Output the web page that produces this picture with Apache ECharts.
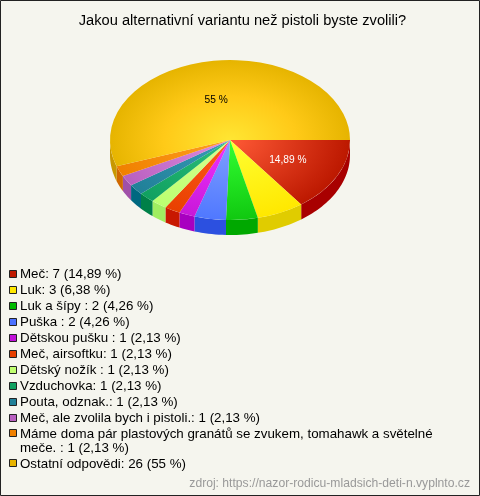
<!DOCTYPE html>
<html><head><meta charset="utf-8">
<style>html,body{margin:0;padding:0;background:#f5f5ee}#c{width:480px;height:496px}</style>
<script src="https://cdn.jsdelivr.net/npm/echarts@6/dist/echarts.min.js"></script>
</head><body><div id="c"></div>
<script>
const titleText = 'Jakou alternativní variantu než pistoli byste zvolili?';
const sourceText = 'zdroj: https://nazor-rodicu-mladsich-deti-n.vyplnto.cz';
const categories = ['Meč','Luk','Luk a šípy','Puška','Dětskou pušku','Meč, airsoftku','Dětský nožík','Vzduchovka','Pouta, odznak.','Meč, ale zvolila bych i pistoli.','Máme doma pár plastových granátů se zvukem, tomahawk a světelné meče.','Ostatní odpovědi'];
const values = [7,3,2,2,1,1,1,1,1,1,1,26];
const legendLabels = ['Meč: 7 (14,89 %)','Luk: 3 (6,38 %)','Luk a šípy : 2 (4,26 %)','Puška : 2 (4,26 %)','Dětskou pušku : 1 (2,13 %)','Meč, airsoftku: 1 (2,13 %)','Dětský nožík : 1 (2,13 %)','Vzduchovka: 1 (2,13 %)','Pouta, odznak.: 1 (2,13 %)','Meč, ale zvolila bych i pistoli.: 1 (2,13 %)','Máme doma pár plastových granátů se zvukem, tomahawk a světelné\nmeče. : 1 (2,13 %)','Ostatní odpovědi: 26 (55 %)'];
const sliceLabels = ['14,89 %','','','','','','','','','','','55 %'];
const swatchColors = ['#c01a00','#ffe800','#00bb00','#4a70ff','#c010d8','#e84000','#c0ff70','#10a060','#208098','#b860c0','#f08000','#e8b400'];
const lightColors  = ['#ff5a36','#ffff33','#33ff33','#80a0ff','#f033ff','#ff5a1a','#d8ff90','#2cc07c','#3a9ab8','#e08ce0','#ffa020','#ffe633'];
const edgeColors   = ['#bc1800','#ffe800','#10c810','#5078ff','#c818d8','#e84000','#bbff70','#10a060','#208098','#b860c0','#f08000','#e6b400'];
const wallColors   = ['#a80000','#e0cc00','#00a800','#2c50e0','#a800c0','#c81800','#a0ee60','#008048','#006880','#a050a8','#d06800','#c89800'];

const CX = 230, CY = 140, RX = 120, RY = 80, DEPTH = 15;
const total = values.reduce((a, b) => a + b, 0);
const starts = []; values.reduce((acc, v, i) => { starts[i] = acc; return acc + v; }, 0);

function renderSlice(params, api) {
  const i = params.dataIndex;
  const a0 = starts[i] / total * Math.PI * 2;
  const a1 = (starts[i] + values[i]) / total * Math.PI * 2;
  const children = [];
  if (a0 < Math.PI) {
    const s = a0, e = Math.min(a1, Math.PI);
    const top = [], bot = [];
    const n = Math.max(2, Math.ceil((e - s) / 0.03));
    for (let k = 0; k <= n; k++) {
      const t = s + (e - s) * k / n;
      const x = CX + RX * Math.cos(t), y = CY + RY * Math.sin(t);
      top.push([x, y]); bot.unshift([x, y + DEPTH]);
    }
    children.push({ type: 'polygon', shape: { points: top.concat(bot) }, style: { fill: wallColors[i] }, z2: 1 });
  }
  const stops = i === 11
    ? [{ offset: 0, color: lightColors[i] }, { offset: 0.55, color: '#ffca18' }, { offset: 1, color: edgeColors[i] }]
    : [{ offset: 0, color: lightColors[i] }, { offset: 1, color: edgeColors[i] }];
  children.push({
    type: 'sector',
    shape: { cx: CX, cy: CY, r0: 0, r: RX, startAngle: a0, endAngle: a1, clockwise: true },
    originX: CX, originY: CY, scaleY: RY / RX,
    style: { fill: { type: 'radial', x: CX, y: CY, r: RX, global: true, colorStops: stops } },
    z2: 2
  });
  if (sliceLabels[i]) {
    const m = (a0 + a1) / 2, f = 0.54;
    children.push({ type: 'text', z2: 3,
      style: { text: sliceLabels[i], x: CX + RX * f * Math.cos(m) + (i === 11 ? -3 : 0), y: CY + RY * f * Math.sin(m) + (i === 11 ? 3 : 0.5),
        align: 'center', verticalAlign: 'middle', font: '10.2px "Liberation Sans"', fill: i === 0 ? '#fff' : '#000' } });
  }
  return { type: 'group', children };
}

const LEG_X = 9.5, LEG_Y = 274, ROW = 15.95, WRAP = 14;
const graphics = [];
let y = LEG_Y;
legendLabels.forEach((t, i) => {
  graphics.push({ type: 'rect', shape: { x: LEG_X, y: Math.round(y) - 3.5, width: 7, height: 7 }, style: { fill: swatchColors[i], stroke: '#222', lineWidth: 1 } });
  graphics.push({ type: 'text', x: 20, y: y - 6.5, style: { text: t, font: '13.33px "Liberation Sans"', fill: '#000', lineHeight: WRAP, verticalAlign: 'top' } });
  y += ROW + (t.split('\n').length - 1) * WRAP;
});
graphics.push({ type: 'rect', shape: { x: 0.5, y: 0.5, width: 479, height: 495 }, style: { fill: 'none', stroke: '#222', lineWidth: 1 }, z: 0 });
graphics.push({ type: 'text', right: 10, top: 478, style: { text: sourceText, font: '12.15px "Liberation Sans"', fill: '#999' } });

const chart = echarts.init(document.getElementById('c'), null, { renderer: 'canvas' });
chart.setOption({
  animation: false,
  backgroundColor: '#f5f5ee',
  title: { text: titleText, left: 237.5, top: 8, textAlign: 'center', textStyle: { fontFamily: 'Liberation Sans', fontSize: 14.67, fontWeight: 'normal', color: '#000' } },
  graphic: graphics,
  series: [{ type: 'custom', coordinateSystem: 'none', renderItem: renderSlice, silent: true, clip: false,
    data: categories.map((c, i) => ({ name: c, value: values[i] })) }]
});
</script></body></html>
